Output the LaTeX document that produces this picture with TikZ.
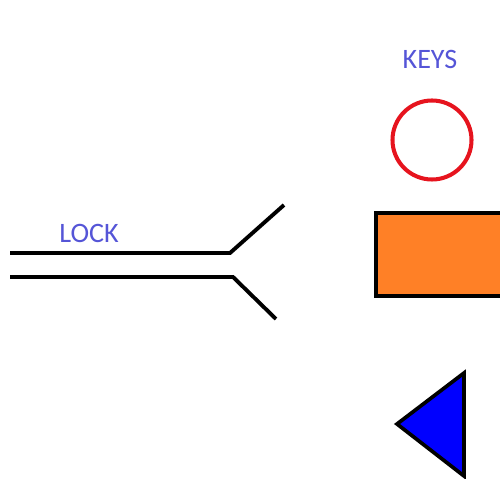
\documentclass[tikz,border=0pt]{standalone}
\usepackage{fontspec}
\setmainfont{Carlito}
\definecolor{labelblue}{RGB}{85,85,215}
\definecolor{keyred}{RGB}{230,20,30}
\definecolor{keyorange}{RGB}{255,128,38}
\definecolor{keyblue}{RGB}{0,0,255}
\begin{document}
\begin{tikzpicture}[x=0.02cm,y=-0.02cm,
  lbl/.style={text=labelblue,font=\fontsize{16}{18}\selectfont,inner sep=0pt},
  lockline/.style={line width=2.2pt,line join=miter},
  keyshape/.style={line width=2.1pt,draw=black}]
\useasboundingbox (0,0) rectangle (500,479);
% labels
\node[lbl] (keys) at (430,59) {KEYS};
\node[lbl] (lock) at (89,233) {LOCK};
% lock
\coordinate (u1) at (10,253);
\coordinate (u2) at (230,253);
\coordinate (u3) at (284,205);
\coordinate (l1) at (10,277);
\coordinate (l2) at (233,277);
\coordinate (l3) at (276,319);
\draw[lockline] (u1) -- (u2) -- (u3);
\draw[lockline] (l1) -- (l2) -- (l3);
% keys
\draw[line width=2.3pt,draw=keyred] (432,140) circle (39.5);
\begin{scope}
\clip (0,0) rectangle (500,479);
\draw[keyshape,fill=keyorange] (376,213) rectangle (510,296);
\end{scope}
\draw[keyshape,fill=keyblue,line join=miter] (464,373) -- (397,424) -- (464,476) -- cycle;
\end{tikzpicture}
\end{document}
